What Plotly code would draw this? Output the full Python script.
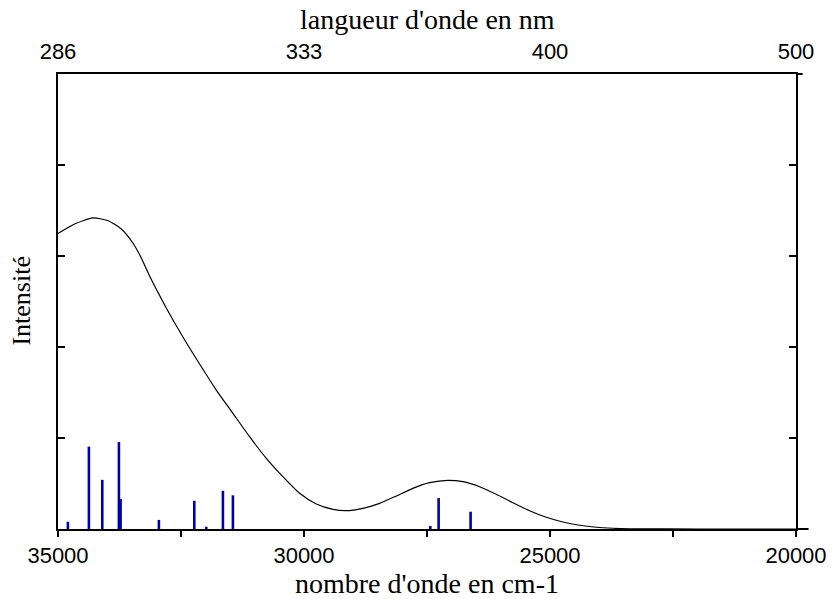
import plotly.graph_objects as go

# Calculated absorption spectrum (envelope), wavenumber in cm-1 vs intensity (arb. units)
curve_wn = [35000, 34663, 34291, 33992, 33713, 33478, 33307, 33138, 32799,
            32461, 32122, 31783, 31445, 31106, 30766, 30429, 30089, 29750, 29412,
            29140, 28803, 28463, 28124, 27787, 27447, 27075, 26770, 26431, 26092,
            25754, 25415, 25075, 24738, 24399, 24059, 23721, 23382, 21960, 20000]
curve_int = [3.247, 3.352, 3.418, 3.390, 3.297, 3.143, 2.978, 2.780, 2.429,
             2.110, 1.813, 1.527, 1.271, 1.014, 0.777, 0.575, 0.392, 0.275, 0.216,
             0.201, 0.227, 0.282, 0.363, 0.447, 0.509, 0.535, 0.520, 0.465, 0.381,
             0.289, 0.201, 0.129, 0.077, 0.041, 0.019, 0.008, 0.002, 0.0, 0.0]

# Individual transitions (sticks)
stick_wn = [34799, 34372, 34100, 33762, 33728, 32949, 32230, 31986, 31648, 31445,
            27433, 27264, 26614]
stick_int = [0.08, 0.905, 0.54, 0.956, 0.33, 0.10, 0.31, 0.025, 0.42, 0.37,
             0.033, 0.34, 0.19]

# Axis ticks
wn_ticks = [35000, 30000, 25000, 20000]
wn_labels = ["35000", "30000", "25000", "20000"]
nm_labels = ["286", "333", "400", "500"]
minor_ticks = [32500, 27500, 22500]

sx, sy = [], []
for w, h in zip(stick_wn, stick_int):
    sx += [w, w, None]
    sy += [0, h, None]

fig = go.Figure()
fig.add_trace(go.Scatter(x=sx, y=sy, mode="lines",
                         line=dict(color="#0000A8", width=2.6),
                         hoverinfo="skip", showlegend=False))
fig.add_trace(go.Scatter(x=curve_wn, y=curve_int, mode="lines",
                         line=dict(color="black", width=1.2, shape="spline", smoothing=0.6),
                         showlegend=False))
# invisible trace on top axis
fig.add_trace(go.Scatter(x=[wn_ticks[0]], y=[0], xaxis="x2", mode="markers",
                         marker=dict(opacity=0), showlegend=False, hoverinfo="skip"))

tick_font = dict(family="Liberation Sans, Arial", size=22, color="black")
title_font = dict(family="Liberation Serif, Times New Roman", size=28, color="black")

fig.update_layout(
    width=832, height=599,
    margin=dict(l=58, r=36, t=74, b=70, autoexpand=False),
    plot_bgcolor="white", paper_bgcolor="white",
    xaxis=dict(range=[35000, 20000], tickvals=wn_ticks, ticktext=wn_labels,
               ticks="outside", ticklen=6, tickwidth=2, tickcolor="black",
               minor=dict(tickvals=minor_ticks, ticks="outside",
                          ticklen=6, tickwidth=2, tickcolor="black"),
               showline=True, linewidth=2, linecolor="black", automargin=False,
               showgrid=False, zeroline=False, tickfont=tick_font),
    xaxis2=dict(range=[35000, 20000], overlaying="x", side="top",
                tickvals=wn_ticks, ticktext=nm_labels,
                ticks="outside", ticklen=4, tickcolor="rgba(0,0,0,0)",
                showline=True, linewidth=2, linecolor="black", automargin=False,
                showgrid=False, zeroline=False, tickfont=tick_font),
    yaxis=dict(range=[0, 5], tickvals=[1, 2, 3, 4], ticks="inside", ticklen=7,
               tickwidth=1.5, tickcolor="black", showticklabels=False,
               showline=True, linewidth=2, linecolor="black", mirror="ticks",
               automargin=False, showgrid=False, zeroline=False),
    annotations=[
        dict(text="nombre d'onde en cm-1", xref="paper", yref="paper",
             x=0.5, y=-0.1187, xanchor="center", yanchor="middle",
             showarrow=False, font=title_font),
        dict(text="langueur d'onde en nm", xref="paper", yref="paper",
             x=0.5, y=1.119, xanchor="center", yanchor="middle",
             showarrow=False, font=title_font),
        dict(text="Intensité", xref="paper", yref="paper",
             x=-0.0495, y=0.503, xanchor="center", yanchor="middle",
             textangle=-90, showarrow=False,
             font=dict(family="Liberation Serif, Times New Roman", size=26, color="black")),
    ],
    shapes=[
        dict(type="line", xref="paper", yref="paper", x0=1, x1=1.017, y0=0, y1=0,
             line=dict(color="black", width=2)),
        dict(type="line", xref="paper", yref="paper", x0=1, x1=1.009, y0=1, y1=1,
             line=dict(color="black", width=2)),
    ],
)

fig.write_html("out.html")
